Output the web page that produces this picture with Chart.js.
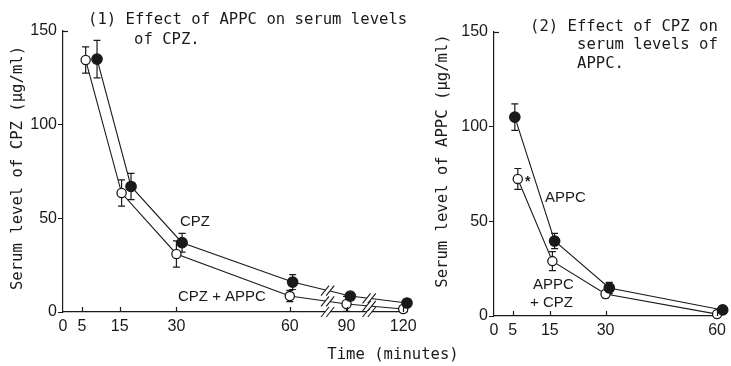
<!DOCTYPE html>
<html>
<head>
<meta charset="utf-8">
<script src="https://cdn.jsdelivr.net/npm/chart.js@4/dist/chart.umd.min.js"></script>
<style>
  html, body { margin: 0; padding: 0; background: #fff; }
  #wrap { position: relative; width: 731px; height: 366px; }
  #wrap canvas { position: absolute; left: 0; top: 0; }
</style>
</head>
<body>
<div id="wrap">
  <canvas id="cpzChart" width="731" height="366"></canvas>
  <canvas id="appcChart" width="731" height="366"></canvas>
</div>
<script>
/* ===== Serum levels of CPZ / APPC ===== */

// tick labels (minutes / µg/ml)
const timeTicksCpz = [0, 5, 15, 30, 60, 90, 120];
const timeTicksAppc = [0, 5, 15, 30, 60];
const levelTicks = [0, 50, 100, 150];

// (1) serum CPZ — plotted times, mean level, error bar half-length
const cpzTime = [9, 18, 31.5, 61.5, 92, 122];
const cpzLevel = [135, 67, 37, 16, 8.5, 4.8];
const cpzErr = [10, 7, 5, 4, 1.5, 1.5];
const cpzAppcTime = [6, 15.5, 30, 60, 90, 120];
const cpzAppcLevel = [134.5, 63.5, 31, 8.5, 4.3, 1.6];
const cpzAppcErr = [7, 7, 7, 3, 4, 1.5];

// (2) serum APPC
const appcTime = [5.6, 16.3, 31, 61.5];
const appcLevel = [105, 39.6, 14.8, 3.2];
const appcErr = [7, 4, 3, 1.5];
const appcCpzTime = [6.4, 15.7, 30, 60];
const appcCpzLevel = [72.4, 29, 11.6, 1];
const appcCpzErr = [5.5, 5, 2, 1];

// axis in panel 1 is broken after 60 min (half scale)
const breakTimes = [80, 102];
function axisPos(t) { return t <= 60 ? t : 60 + (t - 60) / 2; }

const MONO = '"DejaVu Sans Mono", monospace';
const SANS = '"Liberation Sans", Arial, sans-serif';
const INK = '#1a1a1a';
Chart.defaults.font.family = SANS;
Chart.defaults.color = INK;

function pts(times, levels, map) {
  return times.map((t, i) => ({ x: map ? map(t) : t, y: levels[i] }));
}

function series(times, levels, err, filled, map) {
  return {
    data: pts(times, levels, map),
    err: err,
    borderColor: INK,
    borderWidth: 1.1,
    pointRadius: filled ? 5.2 : 4.6,
    pointBorderWidth: 1.3,
    pointBorderColor: INK,
    pointBackgroundColor: filled ? INK : '#fff',
    tension: 0,
    clip: false
  };
}

const errorBars = {
  id: 'errorBars',
  beforeDatasetsDraw(chart) {
    const ctx = chart.ctx, ys = chart.scales.y;
    chart.data.datasets.forEach((ds, di) => {
      chart.getDatasetMeta(di).data.forEach((pt, i) => {
        const v = ds.data[i].y, e = ds.err[i];
        const y1 = ys.getPixelForValue(v + e), y2 = ys.getPixelForValue(Math.max(0, v - e));
        ctx.save();
        ctx.strokeStyle = INK; ctx.lineWidth = 1.2;
        ctx.beginPath();
        ctx.moveTo(pt.x, y1); ctx.lineTo(pt.x, y2);
        ctx.moveTo(pt.x - 3.5, y1); ctx.lineTo(pt.x + 3.5, y1);
        ctx.moveTo(pt.x - 3.5, y2); ctx.lineTo(pt.x + 3.5, y2);
        ctx.stroke();
        ctx.restore();
      });
    });
  }
};

// x ticks point up into the plot, top y tick points right
const innerTicks = {
  id: 'innerTicks',
  afterDraw(chart) {
    const ctx = chart.ctx, xs = chart.scales.x, ys = chart.scales.y;
    const b = chart.chartArea.bottom, l = chart.chartArea.left;
    ctx.save();
    ctx.strokeStyle = INK; ctx.lineWidth = 1.2;
    xs.ticks.forEach(t => {
      if (t.value === 0) return;
      const x = Math.round(xs.getPixelForValue(t.value)) + 0.5;
      ctx.beginPath(); ctx.moveTo(x, b); ctx.lineTo(x, b - 5); ctx.stroke();
    });
    const yTop = Math.round(ys.getPixelForValue(150)) + 0.5;
    ctx.beginPath(); ctx.moveTo(l, yTop); ctx.lineTo(l + 5, yTop); ctx.stroke();
    ctx.restore();
  }
};

function lineYAt(meta, x) {
  const d = meta.data;
  for (let i = 0; i < d.length - 1; i++) {
    if (x >= d[i].x && x <= d[i + 1].x) {
      const f = (x - d[i].x) / (d[i + 1].x - d[i].x);
      return d[i].y + f * (d[i + 1].y - d[i].y);
    }
  }
  return null;
}

function drawBreak(ctx, x, y) {
  ctx.save();
  ctx.fillStyle = '#fff';
  ctx.fillRect(x - 2.5, y - 2.5, 5, 5);
  ctx.strokeStyle = INK; ctx.lineWidth = 1.1;
  [-2.6, 2.6].forEach(dx => {
    ctx.beginPath();
    ctx.moveTo(x + dx - 4, y + 5);
    ctx.lineTo(x + dx + 4, y - 5);
    ctx.stroke();
  });
  ctx.restore();
}

const axisBreaks = {
  id: 'axisBreaks',
  afterDatasetsDraw(chart, args, opts) {
    if (!opts.times) return;
    const ctx = chart.ctx, xs = chart.scales.x;
    opts.times.forEach(t => {
      const x = xs.getPixelForValue(axisPos(t));
      drawBreak(ctx, x, chart.chartArea.bottom);
      chart.data.datasets.forEach((ds, di) => {
        const y = lineYAt(chart.getDatasetMeta(di), x);
        if (y !== null) drawBreak(ctx, x, y);
      });
    });
  }
};

const notes = {
  id: 'notes',
  afterDraw(chart, args, opts) {
    const ctx = chart.ctx;
    (opts.items || []).forEach(n => {
      ctx.save();
      ctx.fillStyle = INK;
      ctx.font = n.font;
      ctx.textBaseline = 'middle';
      ctx.textAlign = n.align || 'left';
      ctx.translate(n.x, n.y);
      if (n.rotate) ctx.rotate(-Math.PI / 2);
      ctx.fillText(n.text, 0, 0);
      ctx.restore();
    });
  }
};

function axes(ticksList, xMax, yWidth, xHeight) {
  return {
    x: {
      type: 'linear', min: 0, max: xMax,
      afterBuildTicks: s => { s.ticks = ticksList.map(v => ({ value: v })); },
      afterFit: s => { s.height = xHeight; },
      grid: { display: true, drawOnChartArea: false, drawTicks: false, color: INK },
      border: { display: true, color: INK, width: 1.2 },
      ticks: { padding: 5, font: { size: 16 }, color: INK, autoSkip: false, maxRotation: 0 }
    },
    y: {
      min: 0, max: 150,
      afterBuildTicks: s => { s.ticks = levelTicks.map(v => ({ value: v })); },
      afterFit: s => { s.width = yWidth; },
      grid: {
        display: true, drawOnChartArea: false, drawTicks: true, tickLength: 5,
        color: c => (c.tick && c.tick.value === 150 ? 'rgba(0,0,0,0)' : INK)
      },
      border: { display: true, color: INK, width: 1.2 },
      ticks: { padding: 1, font: { size: 16 }, color: INK }
    }
  };
}

const monoFont = '15.6px ' + MONO;
const labelFont = '15px ' + SANS;

new Chart(document.getElementById('cpzChart'), {
  type: 'line',
  data: {
    datasets: [
      series(cpzTime, cpzLevel, cpzErr, true, axisPos),
      series(cpzAppcTime, cpzAppcLevel, cpzAppcErr, false, axisPos)
    ]
  },
  options: {
    responsive: false, animation: false,
    layout: { padding: { left: 0, top: 31, right: 324, bottom: 0 } },
    scales: (() => {
      const s = axes(timeTicksCpz.map(axisPos), 91, 63, 54);
      s.x.ticks.callback = (v, i) => String(timeTicksCpz[i]);
      return s;
    })(),
    plugins: {
      legend: { display: false }, tooltip: { enabled: false },
      axisBreaks: { times: breakTimes },
      notes: {
        items: [
          { text: '(1) Effect of APPC on serum levels', x: 88, y: 20, font: monoFont },
          { text: 'of CPZ.', x: 134, y: 40, font: monoFont },
          { text: 'Serum level of CPZ (\u03bcg/ml)', x: 18, y: 168, font: monoFont, rotate: true, align: 'center' },
          { text: 'Time (minutes)', x: 393, y: 355, font: monoFont, align: 'center' },
          { text: 'CPZ', x: 180, y: 222, font: labelFont },
          { text: 'CPZ + APPC', x: 178, y: 297, font: labelFont }
        ]
      }
    }
  },
  plugins: [errorBars, innerTicks, axisBreaks, notes]
});

new Chart(document.getElementById('appcChart'), {
  type: 'line',
  data: {
    datasets: [
      series(appcTime, appcLevel, appcErr, true),
      series(appcCpzTime, appcCpzLevel, appcCpzErr, false)
    ]
  },
  options: {
    responsive: false, animation: false,
    layout: { padding: { left: 430, top: 32, right: 11, bottom: 0 } },
    scales: axes(timeTicksAppc, 60, 64, 50),
    plugins: {
      legend: { display: false }, tooltip: { enabled: false },
      notes: {
        items: [
          { text: '(2) Effect of CPZ on', x: 530, y: 27, font: monoFont },
          { text: 'serum levels of', x: 577, y: 45, font: monoFont },
          { text: 'APPC.', x: 577, y: 64, font: monoFont },
          { text: 'Serum level of APPC (\u03bcg/ml)', x: 443, y: 161, font: monoFont, rotate: true, align: 'center' },
          { text: 'APPC', x: 545, y: 198, font: labelFont },
          { text: 'APPC', x: 533, y: 285, font: labelFont },
          { text: '+ CPZ', x: 530, y: 303, font: labelFont },
          { text: '*', x: 525, y: 182, font: 'bold 14px ' + SANS }
        ]
      }
    }
  },
  plugins: [errorBars, innerTicks, notes]
});
</script>
</body>
</html>
